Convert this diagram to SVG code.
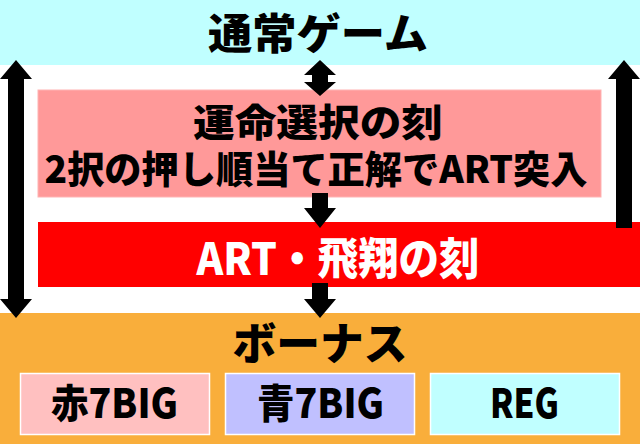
<svg xmlns="http://www.w3.org/2000/svg" width="640" height="444" viewBox="0 0 640 444">
<style>
.t{font-family:"Noto Sans CJK JP","Noto Sans",sans-serif;font-weight:900;text-anchor:middle;fill:#000}
.w{fill:#fff}
.arr{fill:#000}
.sub{stroke:#fff;stroke-width:1.5}
</style>
<rect x="0" y="0" width="640" height="444" fill="#fff"/>
<g id="normal">
<rect x="0" y="0" width="640" height="65" fill="#C0FFFF"/>
<text class="t" x="318" y="49" font-size="42" textLength="220" lengthAdjust="spacingAndGlyphs">通常ゲーム</text>
</g>
<g id="unmei">
<rect x="38" y="90" width="563" height="107" fill="#FF9999" stroke="#FFB3B3" stroke-width="1"/>
<text class="t" x="318" y="136" font-size="38" textLength="250" lengthAdjust="spacingAndGlyphs">運命選択の刻</text>
<text class="t" x="316" y="183" font-size="38" textLength="543" lengthAdjust="spacingAndGlyphs">2択の押し順当て正解でART突入</text>
</g>
<g id="art">
<rect x="38" y="222" width="602" height="65" fill="#FF0000"/>
<text class="t w" x="338" y="275" font-size="44" textLength="283" lengthAdjust="spacingAndGlyphs">ART・飛翔の刻</text>
</g>
<g id="bonus">
<rect x="0" y="313" width="640" height="131" fill="#F9AE3B"/>
<text class="t" x="320" y="360" font-size="44" textLength="175" lengthAdjust="spacingAndGlyphs">ボーナス</text>
</g>
<g id="aka7">
<rect class="sub" x="20.5" y="373.5" width="189" height="61" fill="#FFC0C0"/>
<text class="t" x="114.5" y="418" font-size="40" textLength="127" lengthAdjust="spacingAndGlyphs">赤7BIG</text>
</g>
<g id="ao7">
<rect class="sub" x="225.5" y="373.5" width="189" height="61" fill="#C0C0FF"/>
<text class="t" x="320.5" y="418" font-size="40" textLength="127" lengthAdjust="spacingAndGlyphs">青7BIG</text>
</g>
<g id="reg">
<rect class="sub" x="430.5" y="373.5" width="189" height="61" fill="#C0FFFF"/>
<text class="t" x="524.5" y="418" font-size="40" textLength="69" lengthAdjust="spacingAndGlyphs">REG</text>
</g>
<g id="connectors">
<path class="arr" d="M16,60 L32,79 L24,79 L24,299 L32,299 L16,318 L0,299 L8,299 L8,79 L0,79 Z"/>
<path class="arr" d="M624,60 L640,79 L632,79 L632,228 L616,228 L616,79 L608,79 Z"/>
<path class="arr" d="M320,60 L336,75 L328,75 L328,82 L336,82 L320,96 L304,82 L312,82 L312,75 L304,75 Z"/>
<path class="arr" d="M312,193 L328,193 L328,208 L336,208 L320,228 L304,208 L312,208 Z"/>
<path class="arr" d="M312,283 L328,283 L328,299 L336,299 L320,318 L304,299 L312,299 Z"/>
</g>
</svg>
